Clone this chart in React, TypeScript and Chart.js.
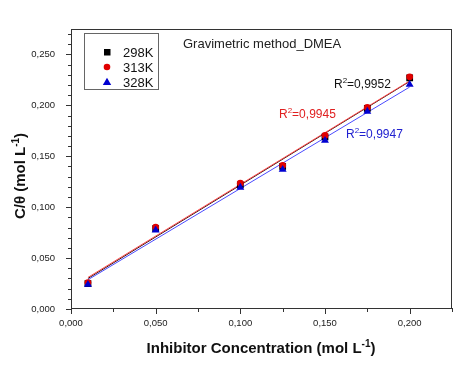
import React, { useEffect, useRef } from 'react';
import { Chart, registerables } from 'chart.js';

Chart.register(...registerables);

// ---------- data ----------
const concentrations = [0.01, 0.05, 0.1, 0.125, 0.15, 0.175, 0.2];
const c298 = [0.025, 0.079, 0.122, 0.14, 0.169, 0.197, 0.227];
const c313 = [0.026, 0.0805, 0.1235, 0.141, 0.1705, 0.198, 0.228];
const c328 = [0.024, 0.0775, 0.1195, 0.137, 0.1655, 0.194, 0.2205];

const fitRange = [0.01, 0.2];
const fit298 = [0.03, 0.2235];
const fit313 = [0.031, 0.224];
const fit328 = [0.0287, 0.218];

const seriesLabels = ['298K', '313K', '328K'];
const r2Values = ['0,9952', '0,9945', '0,9947'];
const xTickValues = [0, 0.05, 0.1, 0.15, 0.2];
const yTickValues = [0, 0.05, 0.1, 0.15, 0.2, 0.25];
const chartTitle = 'Gravimetric method_DMEA';
const xTitle = 'Inhibitor Concentration (mol L';
const yTitle = 'C/\u03B8 (mol L';

const FONT = "'Liberation Sans', Arial, sans-serif";
const BLACK = '#000000';
const RED = '#e00000';
const BLUE = '#0000d0';

const fmt = (v: number) => v.toFixed(3).replace('.', ',');

type Part = { t: string; s?: boolean };

function drawRich(
  ctx: CanvasRenderingContext2D,
  parts: Part[],
  x: number,
  y: number,
  align: 'left' | 'center',
  size: number,
  bold: boolean,
  color: string
) {
  const supSize = Math.round(size * 0.66);
  const w = bold ? 'bold ' : '';
  const fontMain = `${w}${size}px ${FONT}`;
  const fontSup = `${w}${supSize}px ${FONT}`;
  let total = 0;
  for (const p of parts) {
    ctx.font = p.s ? fontSup : fontMain;
    total += ctx.measureText(p.t).width;
  }
  let cx = align === 'center' ? x - total / 2 : x;
  ctx.fillStyle = color;
  ctx.textAlign = 'left';
  ctx.textBaseline = 'alphabetic';
  for (const p of parts) {
    ctx.font = p.s ? fontSup : fontMain;
    ctx.fillText(p.t, cx, p.s ? y - size * 0.42 : y);
    cx += ctx.measureText(p.t).width;
  }
}

const overlayPlugin = {
  id: 'overlay',
  afterDraw(chart: any) {
    const ctx: CanvasRenderingContext2D = chart.ctx;
    const { left, right, top, bottom } = chart.chartArea;
    const xs = chart.scales.x;
    const ys = chart.scales.y;
    ctx.save();

    // frame
    ctx.strokeStyle = '#333333';
    ctx.lineWidth = 1;
    ctx.strokeRect(left + 0.5, top + 0.5, right - left - 1, bottom - top - 1);

    // ticks
    ctx.beginPath();
    for (let k = 0; k <= 27; k++) {
      const py = Math.round(ys.getPixelForValue(k * 0.01)) + 0.5;
      const len = k % 5 === 0 ? 5 : 3;
      ctx.moveTo(left - len, py);
      ctx.lineTo(left + 1, py);
    }
    for (let k = 0; k <= 9; k++) {
      const px = Math.round(xs.getPixelForValue(k * 0.025)) + 0.5;
      const len = k % 2 === 0 ? 5 : 3;
      ctx.moveTo(px, bottom - 1);
      ctx.lineTo(px, bottom + len);
    }
    ctx.stroke();

    // legend box
    ctx.strokeStyle = '#666666';
    ctx.strokeRect(84.5, 33.5, 74, 56);
    const lx = 107;
    const rows = [52, 67, 82];
    ctx.fillStyle = BLACK;
    ctx.fillRect(lx - 3, rows[0] - 3, 6.5, 6.5);
    ctx.fillStyle = RED;
    ctx.beginPath();
    ctx.arc(lx, rows[1], 3.3, 0, Math.PI * 2);
    ctx.fill();
    ctx.fillStyle = BLUE;
    ctx.beginPath();
    ctx.moveTo(lx, rows[2] - 4.2);
    ctx.lineTo(lx + 4.2, rows[2] + 3);
    ctx.lineTo(lx - 4.2, rows[2] + 3);
    ctx.closePath();
    ctx.fill();
    ctx.fillStyle = '#111111';
    ctx.font = `13px ${FONT}`;
    ctx.textAlign = 'left';
    ctx.textBaseline = 'middle';
    seriesLabels.forEach((s, i) => ctx.fillText(s, 123, rows[i] + 1));

    // title
    ctx.fillStyle = '#222222';
    ctx.fillText(chartTitle, 183, 44);

    // R^2 annotations
    drawRich(ctx, [{ t: 'R' }, { t: '2', s: true }, { t: '=' + r2Values[0] }], 334, 88, 'left', 12, false, '#111111');
    drawRich(ctx, [{ t: 'R' }, { t: '2', s: true }, { t: '=' + r2Values[1] }], 279, 118, 'left', 12, false, '#e02020');
    drawRich(ctx, [{ t: 'R' }, { t: '2', s: true }, { t: '=' + r2Values[2] }], 346, 138, 'left', 12, false, '#2020d0');

    // axis titles
    drawRich(ctx, [{ t: xTitle }, { t: '-1', s: true }, { t: ')' }], 261, 353, 'center', 15, true, '#111111');
    ctx.save();
    ctx.translate(25, 176);
    ctx.rotate(-Math.PI / 2);
    drawRich(ctx, [{ t: yTitle }, { t: '-1', s: true }, { t: ')' }], 0, 0, 'center', 15, true, '#111111');
    ctx.restore();

    ctx.restore();
  },
};

export default function App() {
  const ref = useRef<HTMLCanvasElement | null>(null);

  useEffect(() => {
    if (!ref.current) return;
    const pts = (ys: number[]) => concentrations.map((x, i) => ({ x, y: ys[i] }));
    const line = (ys: number[]) => fitRange.map((x, i) => ({ x, y: ys[i] }));

    const chart = new Chart(ref.current, {
      type: 'scatter',
      data: {
        datasets: [
          {
            label: seriesLabels[2],
            data: pts(c328),
            pointStyle: 'triangle',
            pointRadius: 4.6,
            backgroundColor: BLUE,
            borderColor: BLUE,
            borderWidth: 0,
            order: 0,
          },
          {
            label: seriesLabels[1],
            data: pts(c313),
            pointStyle: 'circle',
            pointRadius: 3.4,
            backgroundColor: RED,
            borderColor: RED,
            borderWidth: 0,
            order: 1,
          },
          {
            label: seriesLabels[0],
            data: pts(c298),
            pointStyle: 'rect',
            pointRadius: 4.8,
            backgroundColor: BLACK,
            borderColor: BLACK,
            borderWidth: 0,
            order: 2,
          },
          {
            label: 'fit 328K',
            data: line(fit328),
            showLine: true,
            pointRadius: 0,
            borderColor: '#4a4aff',
            borderWidth: 1,
            order: 3,
          },
          {
            label: 'fit 313K',
            data: line(fit313),
            showLine: true,
            pointRadius: 0,
            borderColor: '#ff4a4a',
            borderWidth: 1,
            order: 4,
          },
          {
            label: 'fit 298K',
            data: line(fit298),
            showLine: true,
            pointRadius: 0,
            borderColor: '#301010',
            borderWidth: 1,
            order: 5,
          },
        ],
      },
      options: {
        animation: false,
        responsive: false,
        devicePixelRatio: 1,
        layout: { padding: { top: 29, right: 22, left: 0, bottom: 0 } },
        plugins: {
          legend: { display: false },
          tooltip: { enabled: false },
          title: { display: false },
        },
        scales: {
          x: {
            type: 'linear',
            min: 0,
            max: 0.225,
            grid: { display: false },
            border: { display: false },
            ticks: {
              callback: (v: any) => fmt(Number(v)),
              font: { size: 9.5, family: FONT },
              color: '#222222',
              padding: 1,
              maxRotation: 0,
              autoSkip: false,
            },
            afterBuildTicks: (s: any) => {
              s.ticks = xTickValues.map((value) => ({ value }));
            },
            afterFit: (s: any) => {
              s.height = 57;
            },
          },
          y: {
            type: 'linear',
            min: 0,
            max: 0.275,
            grid: { display: false },
            border: { display: false },
            ticks: {
              callback: (v: any) => fmt(Number(v)),
              font: { size: 9.5, family: FONT },
              color: '#222222',
              padding: 8,
              autoSkip: false,
            },
            afterBuildTicks: (s: any) => {
              s.ticks = yTickValues.map((value) => ({ value }));
            },
            afterFit: (s: any) => {
              s.width = 71;
            },
          },
        },
      },
      plugins: [overlayPlugin],
    } as any);

    return () => chart.destroy();
  }, []);

  return (
    <div style={{ position: 'absolute', left: 0, top: 0, width: 474, height: 366, background: '#fff' }}>
      <canvas ref={ref} width={474} height={366} style={{ display: 'block' }} />
    </div>
  );
}
